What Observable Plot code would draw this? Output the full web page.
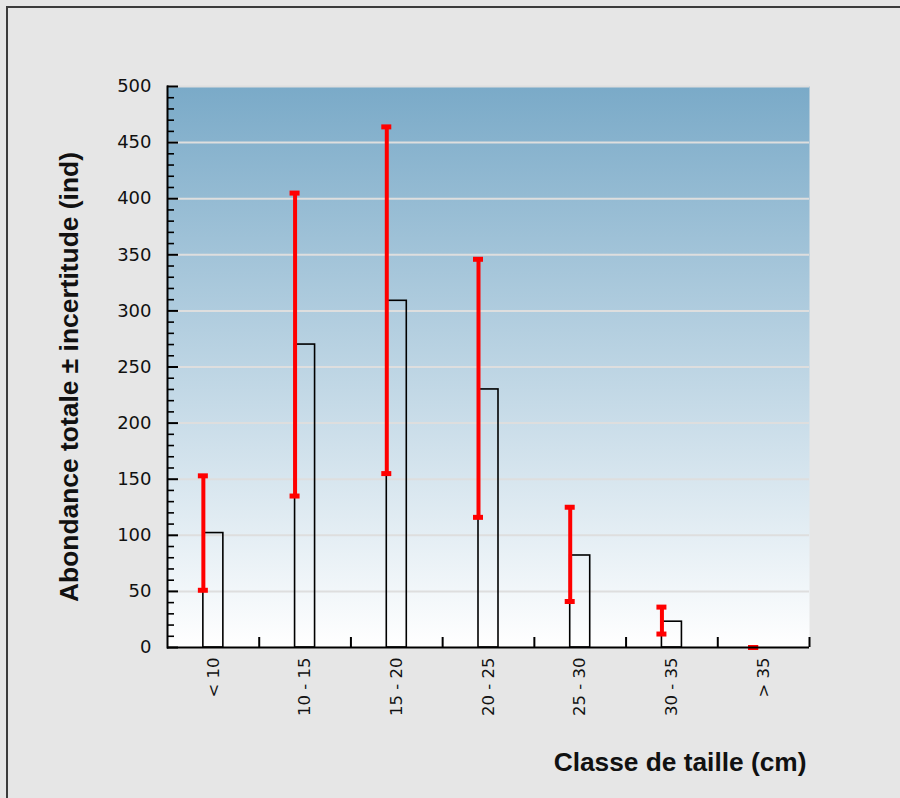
<!DOCTYPE html>
<html>
<head>
<meta charset="utf-8">
<script src="https://cdn.jsdelivr.net/npm/d3@7"></script>
<script src="https://cdn.jsdelivr.net/npm/@observablehq/plot@0.6"></script>
<style>
  html, body { margin: 0; padding: 0; background: #e6e6e6; overflow: hidden; }
  #wrap { position: relative; width: 900px; height: 798px; }
  #border { position: absolute; left: 6px; top: 6px; width: 900px; height: 798px;
            border-top: 2px solid #3c3c3c; border-left: 2px solid #3c3c3c; box-sizing: border-box; }
  #chart { position: absolute; left: 0; top: 0; }
</style>
</head>
<body>
<div id="wrap"><div id="border"></div><div id="chart"></div></div>
<script>
const categories = ["< 10", "10 - 15", "15 - 20", "20 - 25", "25 - 30", "30 - 35", "> 35"];
const abundance = [102, 270, 309, 230, 82, 23, 0];
const lower = [51, 135, 155, 116, 41, 12, 0];
const upper = [153, 405, 464, 346, 125, 36, 0];
const yMajorTicks = [0, 50, 100, 150, 200, 250, 300, 350, 400, 450, 500];
const yMinorTicks = [10, 20, 30, 40, 60, 70, 80, 90, 110, 120, 130, 140, 160, 170, 180, 190,
  210, 220, 230, 240, 260, 270, 280, 290, 310, 320, 330, 340, 360, 370, 380, 390,
  410, 420, 430, 440, 460, 470, 480, 490];
const gridValues = [50, 100, 150, 200, 250, 300, 350, 400, 450, 500];

const data = categories.map((c, i) => ({cat: c, value: abundance[i], lo: lower[i], hi: upper[i]}));

const W = 900, H = 798;
const mL = 167, mR = 91, mT = 86, mB = 151;
const plotW = W - mL - mR, plotH = H - mT - mB;
const step = plotW / categories.length;
const barW = 20;
const pInner = 1 - barW / step;

const chart = Plot.plot({
  width: W,
  height: H,
  marginLeft: mL,
  marginRight: mR,
  marginTop: mT,
  marginBottom: mB,
  style: {fontFamily: "DejaVu Sans", background: "transparent", color: "#111"},
  x: {domain: categories, paddingInner: pInner, paddingOuter: pInner / 2, round: false, label: null},
  y: {domain: [0, 500], label: null},
  marks: [
    Plot.frame({fill: "url(#bgGrad)", stroke: "none"}),
    Plot.ruleY(gridValues, {y: d => d, stroke: "#dedede", strokeWidth: 2}),
    Plot.barY(data, {x: "cat", y: "value", fill: "none", stroke: "#000", strokeWidth: 1.6}),
    Plot.ruleX(data, {x: "cat", y1: "lo", y2: "hi", stroke: "#ff0000", strokeWidth: 4, dx: -barW / 2}),
    Plot.tickY(data, {x: "cat", y: "hi", stroke: "#ff0000", strokeWidth: 5, dx: -barW / 2, insetLeft: 5, insetRight: 5}),
    Plot.tickY(data, {x: "cat", y: "lo", stroke: "#ff0000", strokeWidth: 5, dx: -barW / 2, insetLeft: 5, insetRight: 5}),
    // y axis ticks (inward)
    Plot.ruleY(yMajorTicks, {y: d => d, stroke: "#000", strokeWidth: 2, insetRight: plotW - 11}),
    Plot.ruleY(yMinorTicks, {y: d => d, stroke: "#000", strokeWidth: 1.6, insetRight: plotW - 7}),
    // x axis ticks between classes (inward)
    Plot.ruleX(categories, {x: d => d, dx: step / 2, stroke: "#000", strokeWidth: 2, insetTop: plotH - 10}),
    // axis lines
    Plot.ruleY([0], {stroke: "#000", strokeWidth: 2}),
    Plot.frame({anchor: "left", stroke: "#000", strokeWidth: 2}),
    Plot.axisY(yMajorTicks, {tickSize: 0, tickPadding: 16, fontSize: 18, fill: "#111", label: null}),
    Plot.axisX({tickSize: 0, tickRotate: -90, tickPadding: 10, fontSize: 16.5, fill: "#111", label: null}),
    Plot.text(["Abondance totale ± incertitude (ind)"], {
      frameAnchor: "left", textAnchor: "middle", lineAnchor: "middle", dx: -97.5, dy: 10, rotate: -90,
      fontFamily: "Liberation Sans", fontWeight: "bold", fontSize: 26.4, fill: "#111"
    }),
    Plot.text(["Classe de taille (cm)"], {
      frameAnchor: "bottom-right", textAnchor: "end", lineAnchor: "middle", dx: -3, dy: 115,
      fontFamily: "Liberation Sans", fontWeight: "bold", fontSize: 26.3, fill: "#111"
    })
  ]
});

const svg = d3.select(chart);
const grad = svg.insert("defs", ":first-child")
  .append("linearGradient")
  .attr("id", "bgGrad")
  .attr("x1", 0).attr("y1", 0).attr("x2", 0).attr("y2", 1);
grad.append("stop").attr("offset", 0).attr("stop-color", "#7aaac8");
grad.append("stop").attr("offset", 1).attr("stop-color", "#ffffff");

document.getElementById("chart").appendChild(chart);
</script>
</body>
</html>
